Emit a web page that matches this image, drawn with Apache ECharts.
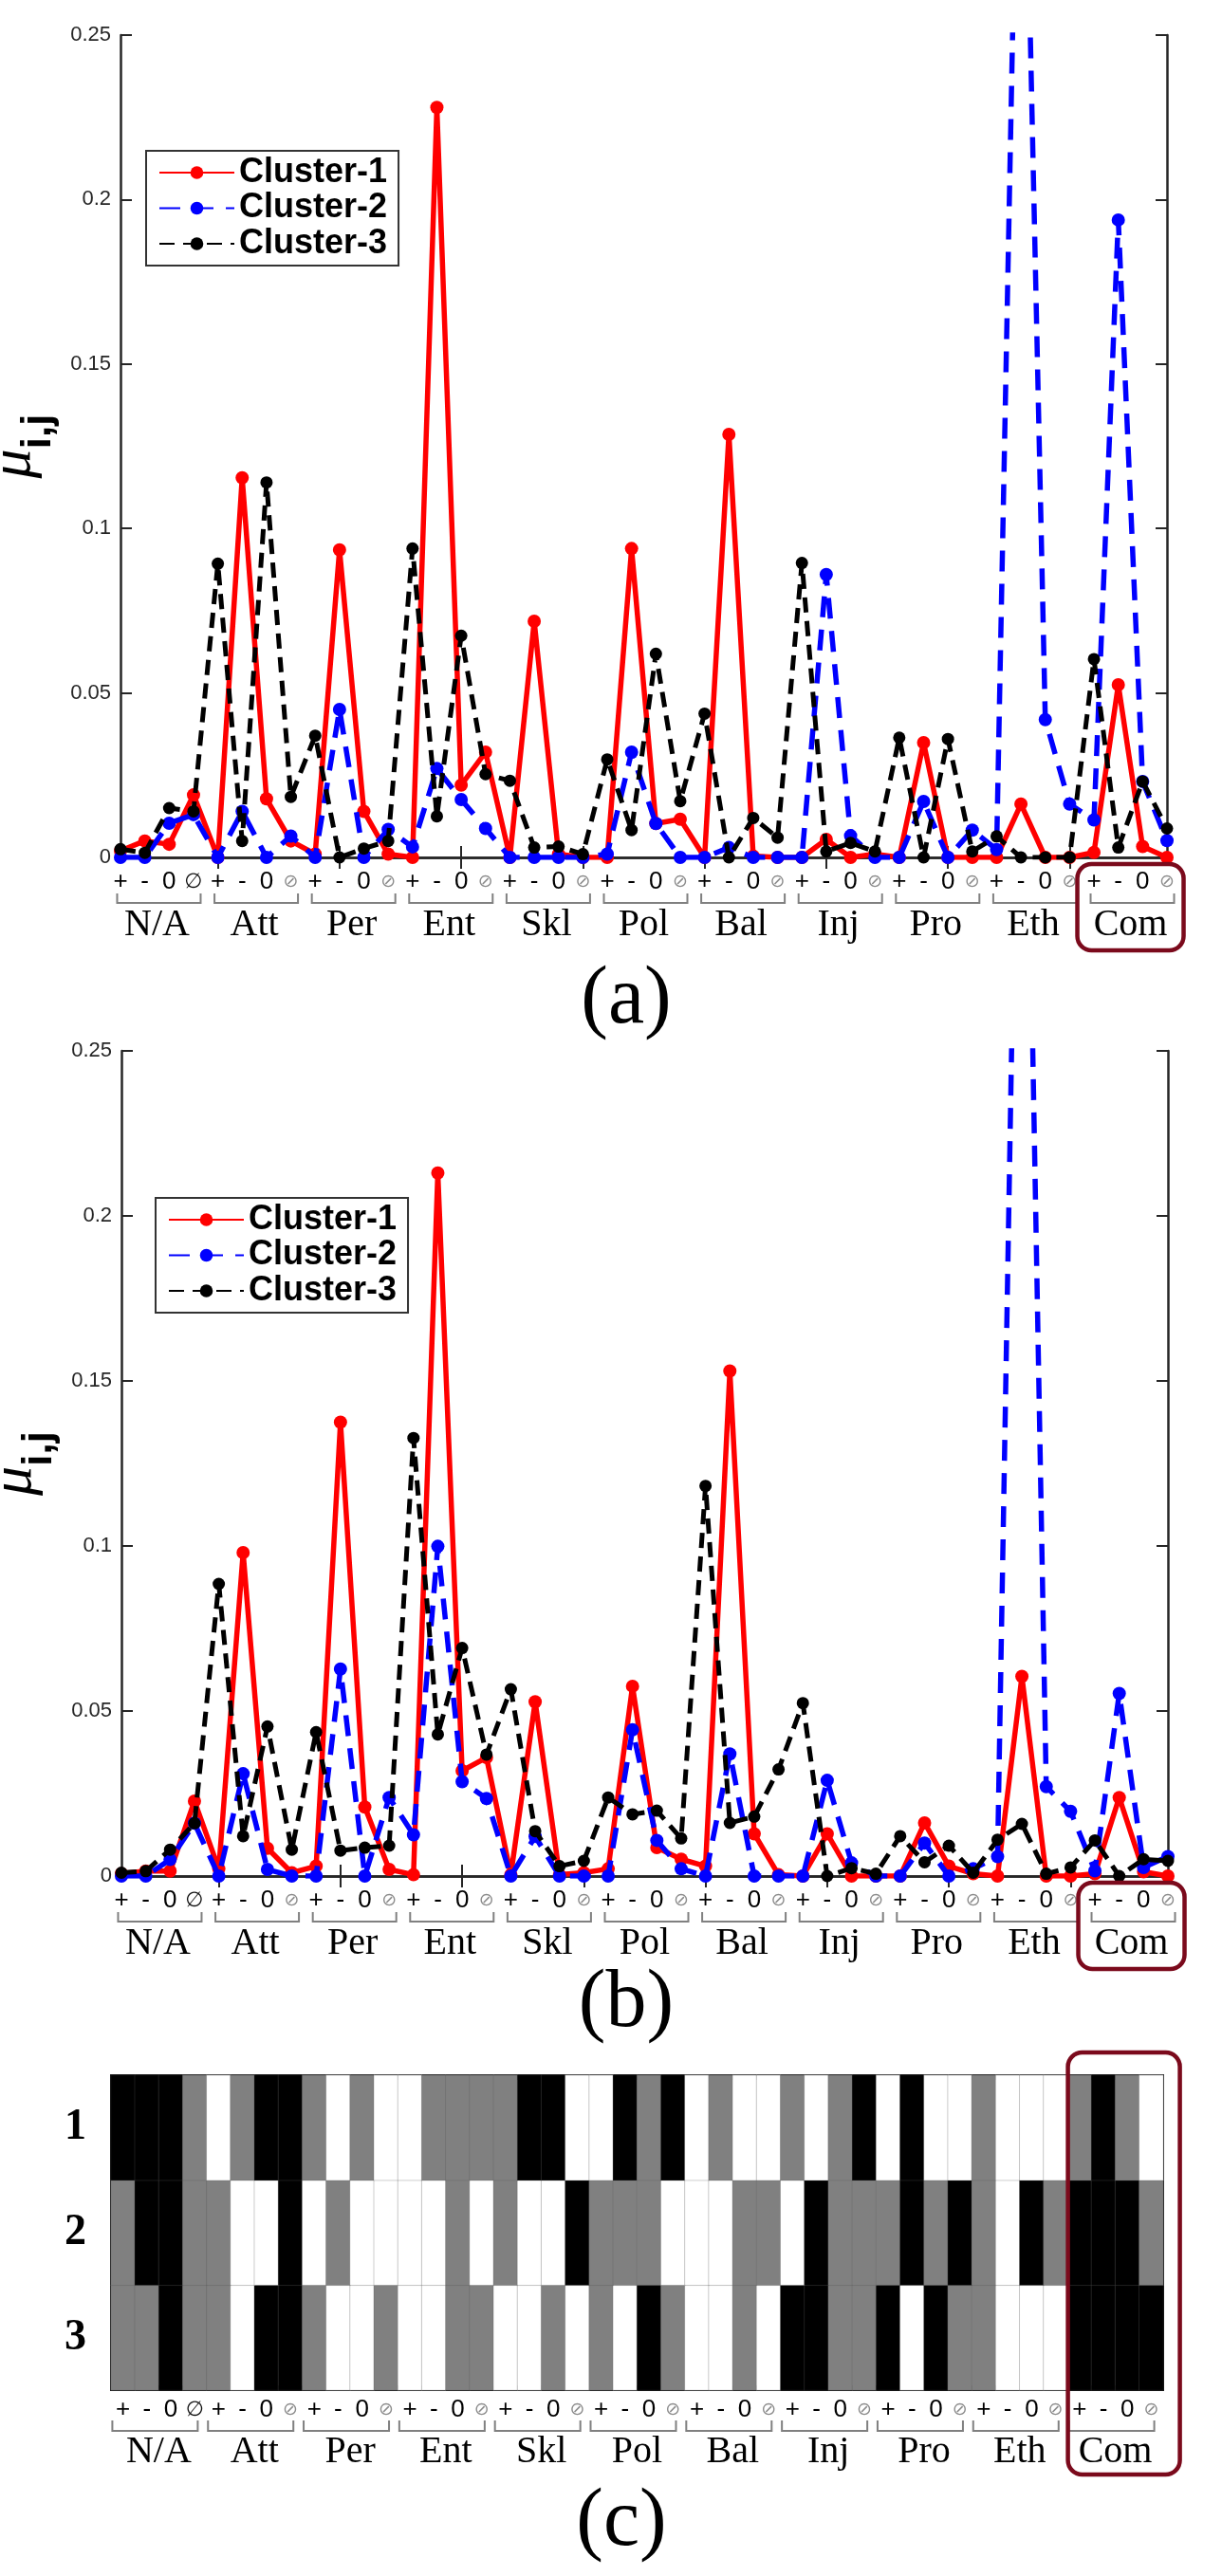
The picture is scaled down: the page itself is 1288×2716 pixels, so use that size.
<!DOCTYPE html>
<html>
<head>
<meta charset="utf-8">
<script src="https://cdn.jsdelivr.net/npm/echarts@6/dist/echarts.min.js"></script>
<style>
  html, body { margin: 0; padding: 0; background: #fff; }
  #chart { width: 1288px; height: 2716px; }
</style>
</head>
<body>
<div id="chart"></div>
<script>
// categories
const groups = ['N/A', 'Att', 'Per', 'Ent', 'Skl', 'Pol', 'Bal', 'Inj', 'Pro', 'Eth', 'Com'];
const signs = ['+', '-', '0', '\u2298'];
const clusterNames = ['Cluster-1', 'Cluster-2', 'Cluster-3'];
const rowLabels = ['3', '2', '1'];

// panel (a)
const a1 = [0.002, 0.005, 0.004, 0.019, 0, 0.1154, 0.0178, 0.005, 0.001, 0.0935, 0.014, 0.001,
  0, 0.228, 0.022, 0.032, 0, 0.0718, 0.001, 0, 0, 0.0939, 0.0103, 0.0116,
  0, 0.1286, 0.0004, 0, 0, 0.0055, 0, 0.001, 0, 0.0349, 0, 0,
  0, 0.0162, 0, 0, 0.0015, 0.0525, 0.0033, 0];
const a2 = [0, 0, 0.0104, 0.013, 0, 0.014, 0, 0.0065, 0, 0.045, 0, 0.0085,
  0.0032, 0.027, 0.0176, 0.0088, 0, 0, 0, 0, 0.001, 0.032, 0.0103, 0,
  0, 0.003, 0, 0, 0, 0.086, 0.0066, 0, 0, 0.017, 0, 0.0083,
  0.0024, 0.38, 0.0419, 0.0162, 0.0114, 0.1938, 0.0231, 0.0051];
const a3 = [0.0025, 0.0014, 0.015, 0.014, 0.0893, 0.005, 0.114, 0.0184, 0.037, 0, 0.0027, 0.005,
  0.0939, 0.0125, 0.0674, 0.0253, 0.0233, 0.003, 0.0033, 0.001, 0.0298, 0.0083, 0.0619, 0.0171,
  0.0437, 0, 0.012, 0.006, 0.0895, 0.0018, 0.0044, 0.0018, 0.0364, 0, 0.036, 0.0018,
  0.0064, 0, 0, 0, 0.0603, 0.003, 0.0231, 0.0088];

// panel (b)
const b1 = [0.0007, 0.0015, 0.0015, 0.0227, 0.0022, 0.098, 0.0084, 0.001, 0.003, 0.1375, 0.0209, 0.002,
  0.0004, 0.213, 0.0319, 0.0359, 0.0004, 0.0528, 0.0004, 0.001, 0.0022, 0.0575, 0.0086, 0.0051,
  0.003, 0.153, 0.0128, 0.0004, 0, 0.0128, 0, 0, 0, 0.0161, 0.003, 0.0007,
  0, 0.0605, 0, 0, 0.0007, 0.0238, 0.0013, 0];
const b2 = [0, 0, 0.005, 0.016, 0, 0.031, 0.002, 0, 0, 0.0627, 0, 0.0238,
  0.0125, 0.0999, 0.0286, 0.0235, 0, 0.012, 0, 0, 0, 0.0443, 0.0108, 0.0022,
  0, 0.037, 0, 0, 0, 0.029, 0.004, 0, 0, 0.010, 0, 0.0022,
  0.0059, 0.43, 0.0271, 0.0196, 0.0016, 0.0553, 0.0026, 0.0059];
const b3 = [0.001, 0.0015, 0.008, 0.016, 0.0885, 0.0121, 0.0453, 0.008, 0.0436, 0.0077, 0.0086, 0.0092,
  0.1327, 0.0429, 0.0691, 0.0368, 0.0566, 0.0136, 0.003, 0.0046, 0.0238, 0.0187, 0.0198, 0.0114,
  0.1182, 0.0161, 0.018, 0.0323, 0.0524, 0, 0.0024, 0.0007, 0.0121, 0.0042, 0.0092, 0.001,
  0.011, 0.0158, 0.0007, 0.0026, 0.0108, 0, 0.0051, 0.0046];

// panel (c): 0 white, 1 gray, 2 black
const row1 = [2,2,2,1,0,1,2,2,1,0,1,0,0,1,1,1,1,2,2,0,0,2,1,2,0,1,0,0,1,0,1,2,0,2,0,0,1,0,0,0,1,2,1,0];
const row2 = [1,2,2,1,1,0,0,2,0,1,0,0,0,0,1,0,1,0,0,2,1,1,1,0,0,0,1,1,0,2,1,1,1,2,1,2,1,0,2,1,2,2,2,1];
const row3 = [1,1,2,1,1,0,2,2,1,0,0,1,0,0,1,1,0,0,1,0,1,0,2,1,0,0,1,0,2,2,1,1,2,0,2,1,1,0,0,0,2,2,2,2];

const xMajor = [5, 10, 15, 20, 25, 30, 35, 40];
const positions = a1.map((v, i) => i + 1);

const AXIS = '#262626';
const FRAME = '#7b0a1c';

function signLabel(i) {
  const k = i % 4;
  if (k === 3) return i === 3 ? '{n|\u2205}' : '{g|\u2298}';
  return '{s|' + signs[k] + '}';
}
const signRich = {
  s: { fontFamily: 'Liberation Sans', fontSize: 26, color: '#000', lineHeight: 26 },
  g: { fontFamily: 'DejaVu Sans', fontSize: 19, color: '#8c8c8c', lineHeight: 26 },
  n: { fontFamily: 'DejaVu Sans', fontSize: 22, color: '#111', lineHeight: 26 }
};

function lineXAxes(grid) {
  return [
    {
      gridIndex: grid, type: 'value', min: 1, max: 44, position: 'bottom',
      axisLine: { show: true, lineStyle: { color: AXIS, width: 2.5 } },
      axisTick: { show: true, inside: true, length: 12, customValues: xMajor, lineStyle: { color: AXIS, width: 2 } },
      axisLabel: {
        show: true, margin: 13, customValues: positions,
        formatter: v => signLabel(Math.round(v) - 1), rich: signRich
      },
      splitLine: { show: false }
    },
    {
      gridIndex: grid, type: 'value', min: 1, max: 44, position: 'top',
      axisLine: { show: true, lineStyle: { color: AXIS, width: 2.5 } },
      axisTick: { show: true, inside: true, length: 12, customValues: xMajor, lineStyle: { color: AXIS, width: 2 } },
      axisLabel: { show: false },
      splitLine: { show: false }
    }
  ];
}

function lineYAxes(grid) {
  return [
    {
      gridIndex: grid, type: 'value', min: 0, max: 0.25, interval: 0.05, position: 'left',
      name: '{mu|\u03bc}{sub|i,j}', nameLocation: 'middle', nameRotate: 90, nameGap: 40,
      nameTextStyle: {
        rich: {
          mu: { fontFamily: 'Liberation Serif', fontStyle: 'italic', fontSize: 62, lineHeight: 62, verticalAlign: 'top', color: '#000' },
          sub: { fontFamily: 'Liberation Sans', fontWeight: 'bold', fontSize: 44, lineHeight: 44, verticalAlign: 'top', padding: [36, 0, 0, 0], color: '#000' }
        }
      },
      axisLine: { show: true, lineStyle: { color: AXIS, width: 2.5 } },
      axisTick: { show: true, inside: true, length: 12, lineStyle: { color: AXIS, width: 2 } },
      axisLabel: { margin: 10, fontFamily: 'Liberation Sans', fontSize: 22, color: AXIS },
      splitLine: { show: false }
    },
    {
      gridIndex: grid, type: 'value', min: 0, max: 0.25, interval: 0.05, position: 'right',
      axisLine: { show: true, lineStyle: { color: AXIS, width: 2.5 } },
      axisTick: { show: true, inside: true, length: 12, lineStyle: { color: AXIS, width: 2 } },
      axisLabel: { show: false },
      splitLine: { show: false }
    }
  ];
}

const styles = [
  { color: '#ff0000', width: 5.5, type: 'solid', size: 14 },
  { color: '#0000ff', width: 5.5, type: [22, 13], size: 14 },
  { color: '#000000', width: 5, type: [16, 9], size: 13 }
];

function lineSeries(idx, values, axis) {
  const st = styles[idx];
  return {
    type: 'line', name: clusterNames[idx], xAxisIndex: axis, yAxisIndex: axis,
    data: values.map((v, i) => [positions[i], v]),
    symbol: 'circle', symbolSize: st.size, showSymbol: true,
    lineStyle: { color: st.color, width: st.width, type: st.type },
    itemStyle: { color: st.color },
    emphasis: { disabled: true }, z: 2 + idx
  };
}

// brackets, group names and the Com frame, placed through the axes
function groupSeries(axis, cfg) {
  return {
    type: 'custom', xAxisIndex: axis, yAxisIndex: axis, silent: true, clip: false, z: 20,
    data: groups.map((g, i) => [cfg.first(i), 0, i]),
    renderItem: function (params, api) {
      const gi = api.value(2);
      const cs = params.coordSys;
      const yb = cs.y + cs.height;
      const x0 = api.coord([cfg.first(gi), 0])[0];
      const x1 = api.coord([cfg.first(gi) + 3, 0])[0];
      const cx = (x0 + x1) / 2 + cfg.dx;
      const children = [
        {
          type: 'polyline',
          shape: { points: [[cx - cfg.half, yb + cfg.tickTop], [cx - cfg.half, yb + cfg.lineY], [cx + cfg.half, yb + cfg.lineY], [cx + cfg.half, yb + cfg.tickTop]] },
          style: { stroke: '#808080', lineWidth: 2, fill: null }
        },
        {
          type: 'text', x: (x0 + x1) / 2, y: yb + cfg.nameY,
          style: { text: groups[gi], fontFamily: 'Liberation Serif', fontSize: 40, fill: '#000', align: 'center', verticalAlign: 'middle' }
        }
      ];
      if (gi === groups.length - 1) {
        const bx = (x0 + x1) / 2 + cfg.box.dx;
        children.push({
          type: 'rect',
          shape: { x: bx - cfg.box.half, y: yb + cfg.box.top, width: cfg.box.half * 2, height: cfg.box.bottom - cfg.box.top, r: 15 },
          style: { stroke: FRAME, lineWidth: 4.5, fill: null }
        });
      }
      return { type: 'group', children: children };
    }
  };
}

const lineCfg = { first: g => 4 * g + 1, dx: 2, half: 44, tickTop: 38, lineY: 48, nameY: 71,
  box: { dx: 0, half: 56, top: 7, bottom: 98 } };
const heatCfg = { first: g => 4 * g, dx: -4, half: 45, tickTop: 32, lineY: 43, nameY: 65,
  box: { dx: 9, half: 59, top: -356, bottom: 89 } };

const heatData = [];
[row3, row2, row1].forEach((row, r) => row.forEach((v, c) => heatData.push([c, r, v])));
const colCats = positions.map(String);

function legend(left, top) {
  return {
    left: left, top: top, orient: 'vertical', selectedMode: false,
    data: clusterNames, padding: [5, 12, 5, 13], itemGap: 1.5, itemWidth: 79, itemHeight: 17,
    borderColor: '#333', borderWidth: 2, backgroundColor: '#fff',
    textStyle: { fontFamily: 'Liberation Sans', fontWeight: 'bold', fontSize: 36, lineHeight: 36, color: '#000' }
  };
}

const chart = echarts.init(document.getElementById('chart'), null, { renderer: 'canvas' });
chart.setOption({
  animation: false,
  backgroundColor: '#fff',
  grid: [
    { left: 127, top: 37, width: 1103, height: 867, containLabel: false, outerBoundsMode: 'none' },
    { left: 128, top: 1108, width: 1103, height: 870, containLabel: false, outerBoundsMode: 'none' },
    { left: 117, top: 2188, width: 1109, height: 332, containLabel: false, outerBoundsMode: 'none' }
  ],
  legend: [legend(154, 159), legend(164, 1263)],
  xAxis: [
    ...lineXAxes(0), ...lineXAxes(1),
    {
      gridIndex: 2, type: 'category', data: colCats, position: 'bottom',
      axisLine: { show: true, lineStyle: { color: '#000', width: 2 } },
      axisTick: { show: true, inside: true, length: 5, interval: 0, lineStyle: { color: '#000', width: 2 } },
      axisLabel: { interval: 0, margin: 8, formatter: (v, i) => signLabel(i), rich: signRich },
      splitLine: { show: false }
    },
    {
      gridIndex: 2, type: 'category', data: colCats, position: 'top',
      axisLine: { show: true, lineStyle: { color: '#000', width: 2 } },
      axisTick: { show: true, inside: true, length: 5, interval: 0, lineStyle: { color: '#000', width: 2 } },
      axisLabel: { show: false }, splitLine: { show: false }
    }
  ],
  yAxis: [
    ...lineYAxes(0), ...lineYAxes(1),
    {
      gridIndex: 2, type: 'category', data: rowLabels, position: 'left',
      axisLine: { show: true, lineStyle: { color: '#000', width: 2 } },
      axisTick: { show: true, inside: true, length: 8, lineStyle: { color: '#000', width: 2 } },
      axisLabel: { margin: 26, fontFamily: 'Liberation Serif', fontWeight: 'bold', fontSize: 46, color: '#000' },
      splitLine: { show: false }
    },
    {
      gridIndex: 2, type: 'category', data: rowLabels, position: 'right',
      axisLine: { show: true, lineStyle: { color: '#000', width: 2 } },
      axisTick: { show: false }, axisLabel: { show: false }, splitLine: { show: false }
    }
  ],
  visualMap: {
    type: 'piecewise', show: false, seriesIndex: 8, dimension: 2,
    pieces: [
      { value: 0, color: '#ffffff' },
      { value: 1, color: '#808080' },
      { value: 2, color: '#000000' }
    ]
  },
  series: [
    lineSeries(0, a1, 0), lineSeries(1, a2, 0), lineSeries(2, a3, 0),
    groupSeries(0, lineCfg),
    lineSeries(0, b1, 2), lineSeries(1, b2, 2), lineSeries(2, b3, 2),
    groupSeries(2, lineCfg),
    {
      type: 'heatmap', xAxisIndex: 4, yAxisIndex: 4, data: heatData,
      itemStyle: { borderColor: 'rgba(90,90,90,0.3)', borderWidth: 1 },
      emphasis: { disabled: true }, silent: true
    },
    groupSeries(4, heatCfg)
  ],
  graphic: [
    { type: 'text', x: 660, y: 1055, style: { text: '(a)', fontFamily: 'Liberation Serif', fontSize: 86, fill: '#000', align: 'center', verticalAlign: 'middle' } },
    { type: 'text', x: 660, y: 2113, style: { text: '(b)', fontFamily: 'Liberation Serif', fontSize: 86, fill: '#000', align: 'center', verticalAlign: 'middle' } },
    { type: 'text', x: 655, y: 2660, style: { text: '(c)', fontFamily: 'Liberation Serif', fontSize: 86, fill: '#000', align: 'center', verticalAlign: 'middle' } }
  ]
});
window.onresize = () => chart.resize();
</script>
</body>
</html>
